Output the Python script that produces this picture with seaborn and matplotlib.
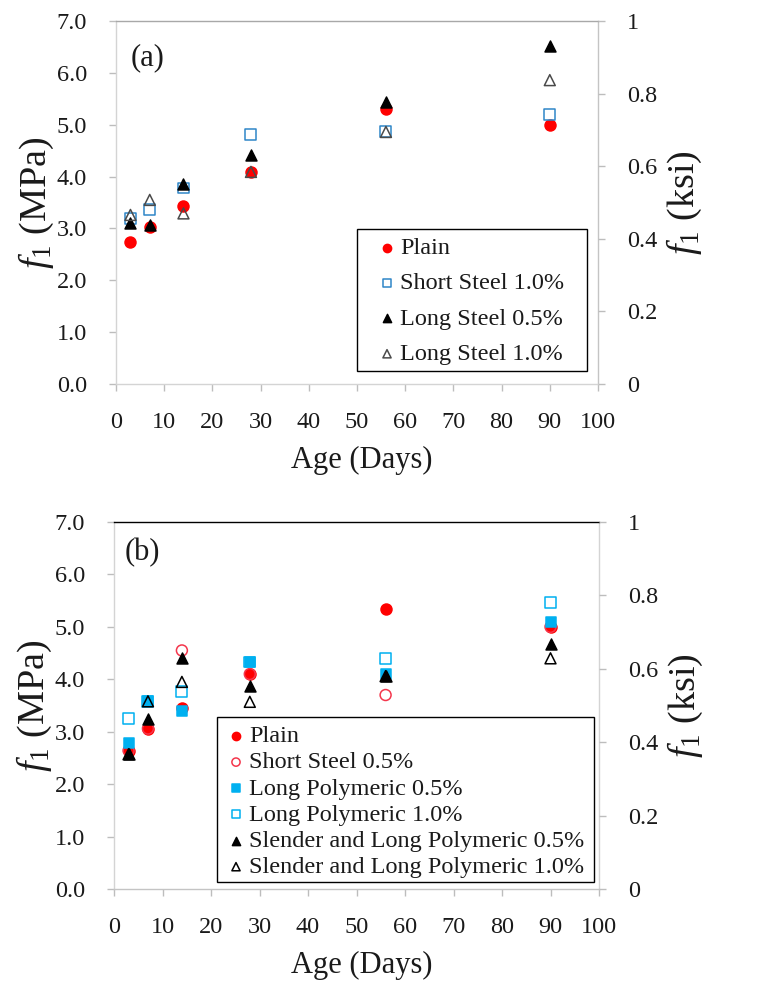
import numpy as np
import pandas as pd
import matplotlib
matplotlib.use("Agg")
import matplotlib.pyplot as plt
from matplotlib.patches import Rectangle
import seaborn as sns

sns.set_theme(style="white")
plt.rcParams["font.family"] = ["Liberation Serif", "DejaVu Serif"]
plt.rcParams["mathtext.fontset"] = "custom"
plt.rcParams["mathtext.rm"] = "Liberation Serif"
plt.rcParams["mathtext.it"] = "Liberation Serif:italic"

# Curing ages (days)
days = [3, 7, 14, 28, 56, 90]

# Panel (a): steel fibre mixes, f1 in MPa
a_plain = [2.74, 3.03, 3.43, 4.09, 5.31, 5.00]
a_short_steel_10 = [3.20, 3.36, 3.78, 4.81, 4.87, 5.19]
a_long_steel_05 = [3.10, 3.07, 3.85, 4.42, 5.43, 6.52]
a_long_steel_10 = [3.26, 3.55, 3.29, 4.09, 4.86, 5.86]

# Panel (b): polymeric fibre mixes, f1 in MPa
b_plain = [2.64, 3.06, 3.45, 4.10, 5.34, 5.00]
b_short_steel_05 = [2.64, 3.06, 4.55, 4.10, 3.70, 5.00]
b_long_poly_05 = [2.78, 3.58, 3.40, 4.33, 4.11, 5.09]
b_long_poly_10 = [3.25, 3.58, 3.76, 4.33, 4.40, 5.46]
b_slender_05 = [2.57, 3.25, 4.40, 3.87, 4.06, 4.68]
b_slender_10 = [2.57, 3.58, 3.95, 3.57, 4.06, 4.40]

x_ticks = list(range(0, 101, 10))
mpa_ticks = [0, 1, 2, 3, 4, 5, 6, 7]
ksi_ticks = [0, 0.2, 0.4, 0.6, 0.8, 1.0]
ksi_labels = ["0", "0.2", "0.4", "0.6", "0.8", "1"]

TXT = "#1a1a1a"
RED = "#FF0000"
PINK = "#F4364C"
SKY = "#00B0F0"
STEEL = "#2F86C8"

series_a = [
    ("Plain", a_plain, "o", RED, RED),
    ("Short Steel 1.0%", a_short_steel_10, "s", "none", STEEL),
    ("Long Steel 0.5%", a_long_steel_05, "^", "black", "black"),
    ("Long Steel 1.0%", a_long_steel_10, "^", "none", "#4a4a4a"),
]
series_b = [
    ("Plain", b_plain, "o", RED, RED),
    ("Short Steel 0.5%", b_short_steel_05, "o", "none", PINK),
    ("Long Polymeric 0.5%", b_long_poly_05, "s", SKY, SKY),
    ("Long Polymeric 1.0%", b_long_poly_10, "s", "none", SKY),
    ("Slender and Long Polymeric 0.5%", b_slender_05, "^", "black", "black"),
    ("Slender and Long Polymeric 1.0%", b_slender_10, "^", "none", "black"),
]

fig = plt.figure(figsize=(7.78, 9.81), dpi=100)
fig.patch.set_facecolor("white")

W, H = 778, 981
TICK_FS = 17.5


def px_axes(left, top, right, bottom):
    return fig.add_axes([left / W, 1 - bottom / H, (right - left) / W, (bottom - top) / H])


def draw_panel(ax, series, tag, tag_xy, spine_colors, box, leg_anchor, spacing):
    for label, vals, marker, fc, ec in series:
        df = pd.DataFrame({"Age": days, "f1": vals})
        sns.scatterplot(data=df, x="Age", y="f1", ax=ax, marker=marker, s=62,
                        fc=fc, ec=ec, linewidth=1.1, label=label, zorder=3)
    ax.set_xlim(0, 100)
    ax.set_ylim(0, 7)
    ax.set_xticks(x_ticks)
    ax.set_yticks(mpa_ticks)
    ax.set_yticklabels([f"{v:.1f}" for v in mpa_ticks])
    ax.tick_params(axis="both", which="major", labelsize=TICK_FS, colors="#bdbdbd",
                   labelcolor=TXT, length=5, width=1, direction="out")
    ax.tick_params(axis="y", pad=16, left=True)
    ax.tick_params(axis="x", pad=15, bottom=True)
    for side, col in spine_colors.items():
        ax.spines[side].set_color(col)
        ax.spines[side].set_linewidth(1.0)
    ax.set_xlabel("Age (Days)", fontsize=22, color=TXT, labelpad=6)
    ax.xaxis.set_label_coords(0.51, -0.17)
    ax.set_ylabel(r"$f_1$ (MPa)", fontsize=27.5, color=TXT, labelpad=0)
    ax.text(tag_xy[0], tag_xy[1], tag, transform=ax.transAxes,
            fontsize=22, color=TXT, ha="left", va="center")

    # legend frame
    x0, y0, x1, y1 = box
    ax.add_patch(Rectangle((x0, y0), x1 - x0, y1 - y0, transform=ax.transAxes,
                           facecolor="white", edgecolor="black", linewidth=1.0,
                           zorder=9, clip_on=False))
    leg = ax.legend(loc="upper left", bbox_to_anchor=leg_anchor, frameon=False,
                    fontsize=17.5, handlelength=0.7, handletextpad=0.19,
                    borderpad=0, borderaxespad=0, markerscale=0.75,
                    labelspacing=spacing)
    for t in leg.get_texts():
        t.set_color(TXT)
    leg.set_zorder(10)

    ax2 = ax.twinx()
    ax2.set_ylim(0, 1.0)
    ax2.set_yticks(ksi_ticks)
    ax2.set_yticklabels(ksi_labels)
    ax2.tick_params(axis="y", labelsize=TICK_FS, colors="#bdbdbd", labelcolor=TXT,
                    length=5, width=1, direction="out", pad=16, right=True)
    for s in ax2.spines.values():
        s.set_visible(False)
    ax2.set_ylabel(r"$f_1$ (ksi)", fontsize=27.5, color=TXT, labelpad=5)
    ax2.grid(False)
    ax.grid(False)


ax_a = px_axes(116, 21, 598, 384)
draw_panel(
    ax_a, series_a, "(a)", (0.03, 0.9),
    {"left": "#d4d4d4", "bottom": "#d4d4d4", "right": "#c4c4c4", "top": "#a8a8a8"},
    (0.5, 0.037, 0.977, 0.427),
    (0.5446, 0.405), 0.55,
)

ax_b = px_axes(114, 522, 599, 889)
draw_panel(
    ax_b, series_b, "(b)", (0.022, 0.918),
    {"left": "#d4d4d4", "bottom": "#c4c4c4", "right": "#d4d4d4", "top": "black"},
    (0.212, 0.018, 0.99, 0.469),
    (0.234, 0.446), 0.17,
)

fig.savefig("out.png", dpi=100, facecolor="white")
